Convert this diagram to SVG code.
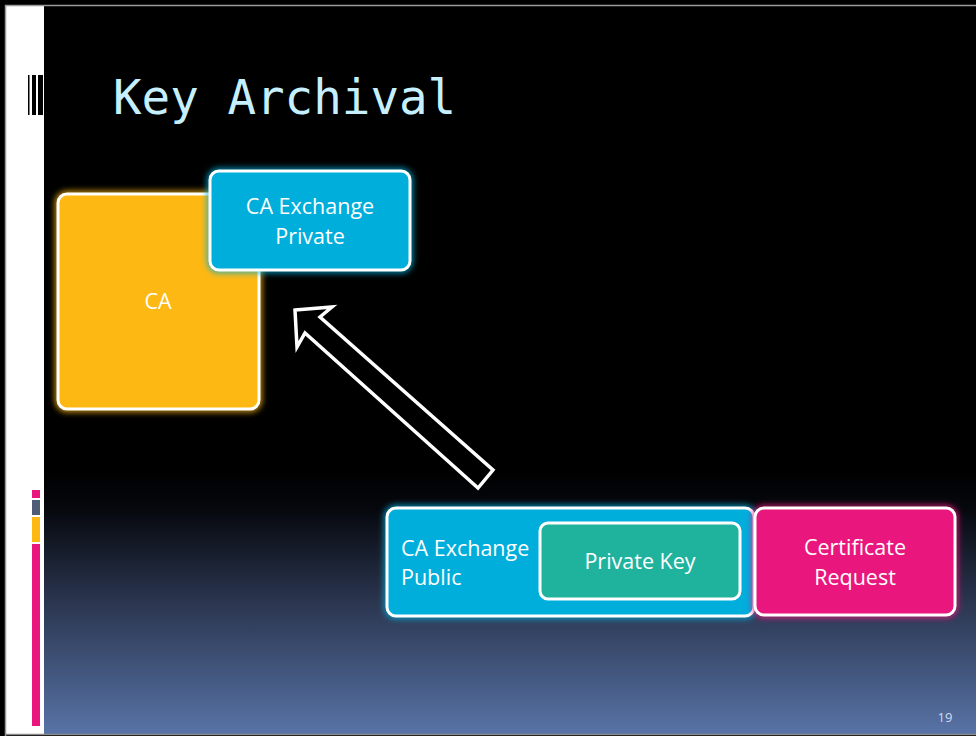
<svg xmlns="http://www.w3.org/2000/svg" width="976" height="736" viewBox="0 0 976 736">
  <defs>
    <linearGradient id="bgGrad" gradientUnits="userSpaceOnUse" x1="0" y1="470" x2="0" y2="736">
      <stop offset="0" stop-color="#000000"/>
      <stop offset="0.15" stop-color="#06080e"/>
      <stop offset="0.5" stop-color="#2b3650"/>
      <stop offset="1" stop-color="#5874a7"/>
    </linearGradient>
    <filter id="glow" x="-20%" y="-20%" width="140%" height="140%">
      <feGaussianBlur stdDeviation="3"/>
    </filter>
  </defs>
  <style>
    .box { stroke: #ffffff; stroke-width: 3; }
    .halo { fill: none; stroke-width: 5; filter: url(#glow); }
    .lbl { font-family: "Open Sans", "Noto Sans", sans-serif; font-size: 21.5px; fill: #ffffff; }
    .mid { text-anchor: middle; }
  </style>

  <!-- slide frame -->
  <rect x="0" y="0" width="976" height="736" fill="#000000"/>
  <rect x="5" y="5" width="971" height="730" fill="url(#bgGrad)"/>
  <rect x="5" y="5" width="39" height="730" fill="#ffffff"/>
  <path d="M5.5 736 V5.5 H976" fill="none" stroke="#9a9a9a" stroke-width="1.5"/>
  <line x1="5" y1="734.5" x2="976" y2="734.5" stroke="#8a8a8a" stroke-width="1.5"/>

  <!-- title marker bars -->
  <rect x="28" y="75" width="1.5" height="40" fill="#000000"/>
  <rect x="32" y="75" width="4" height="40" fill="#000000"/>
  <rect x="38" y="75" width="5" height="40" fill="#000000"/>

  <!-- left accent bars -->
  <rect x="32" y="490" width="8" height="8" fill="#e9177d"/>
  <rect x="32" y="500" width="8" height="15" fill="#4e5d75"/>
  <rect x="32" y="517" width="8" height="25" fill="#fdb813"/>
  <rect x="32" y="544" width="8" height="182" fill="#e9177d"/>

  <!-- title -->
  <text x="113" y="114" font-family="'DejaVu Sans Mono', monospace" font-size="47.5" fill="#c6f0ff">Key Archival</text>

  <!-- CA -->
  <g id="ca">
    <rect x="58" y="194" width="201" height="215" rx="9" class="halo" stroke="#fdb813"/>
    <rect x="58" y="194" width="201" height="215" rx="9" class="box" fill="#fdb813"/>
    <text x="158" y="309" class="lbl mid">CA</text>
  </g>

  <!-- CA Exchange Private -->
  <g id="ca-exchange-private">
    <rect x="210" y="171" width="200" height="99" rx="9" class="halo" stroke="#00aedb"/>
    <rect x="210" y="171" width="200" height="99" rx="9" class="box" fill="#00aedb"/>
    <text x="310" y="214" class="lbl mid">CA Exchange</text>
    <text x="310" y="244" class="lbl mid">Private</text>
  </g>

  <!-- connectors -->
  <g id="connectors">
    <polygon points="295,310 332,307 320,317 493,470 478,488 305,333 297,347" fill="#000000" stroke="#ffffff" stroke-width="3.5" stroke-linejoin="miter"/>
  </g>

  <!-- CA Exchange Public -->
  <g id="ca-exchange-public">
    <rect x="387" y="508" width="367" height="108" rx="9" class="halo" stroke="#00aedb"/>
    <rect x="387" y="508" width="367" height="108" rx="9" class="box" fill="#00aedb"/>
    <text x="401" y="556" class="lbl">CA Exchange</text>
    <text x="401" y="585" class="lbl">Public</text>
  </g>

  <!-- Private Key -->
  <g id="private-key">
    <rect x="540" y="523" width="200" height="76" rx="8" class="box" fill="#1fb39e"/>
    <text x="640" y="569" class="lbl mid">Private Key</text>
  </g>

  <!-- Certificate Request -->
  <g id="certificate-request">
    <rect x="755" y="508" width="200" height="107" rx="9" class="halo" stroke="#e9177d"/>
    <rect x="755" y="508" width="200" height="107" rx="9" class="box" fill="#e9177d"/>
    <text x="855" y="555" class="lbl mid">Certificate</text>
    <text x="855" y="585" class="lbl mid">Request</text>
  </g>

  <!-- page number -->
  <text x="945" y="722" font-family="'Open Sans', sans-serif" font-size="13" fill="#d0dbef" text-anchor="middle">19</text>
</svg>
